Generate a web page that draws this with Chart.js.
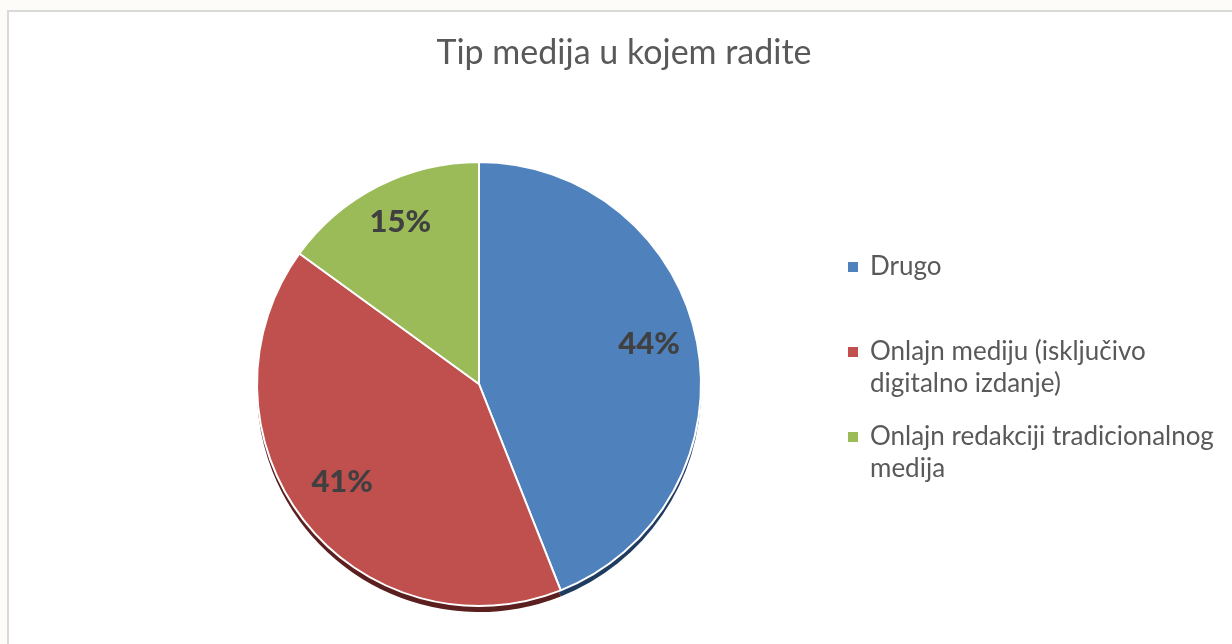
<!DOCTYPE html>
<html>
<head>
<meta charset="utf-8">
<script src="https://cdn.jsdelivr.net/npm/chart.js@4.4.1/dist/chart.umd.min.js"></script>
<style>
  html, body { margin: 0; padding: 0; background: #fdfcf8; overflow: hidden; }
  .frame {
    position: absolute; left: 7px; top: 10px; width: 1240px; height: 650px;
    background: #ffffff; border: 2px solid #d9d9d9;
  }
  #chart { position: absolute; left: 0; top: 0; }
</style>
</head>
<body>
<div class="frame"></div>
<canvas id="chart" width="1232" height="644"></canvas>
<script>
// chart data
const chartTitle = 'Tip medija u kojem radite';
const categories = [
    'Drugo',
    ['Onlajn mediju (isključivo', 'digitalno izdanje)'],
    ['Onlajn redakciji tradicionalnog', 'medija']
];
const shares = [44, 41, 15];
const sliceColors = ['#4f81bd', '#c0504d', '#9bbb59'];
const rimColors = ['#1f3b60', '#5a1f1e', '#4a5e28'];

const textColor = '#595959';
const fontFamily = 'Lato, "Open Sans", sans-serif';

// dark rim under the pie to fake Excel's 3D look
const rimPlugin = {
    id: 'rim',
    beforeDatasetsDraw(chart) {
        const ctx = chart.ctx;
        const arcs = chart.getDatasetMeta(0).data;
        ctx.save();
        arcs.forEach((arc, i) => {
            const p = arc.getProps(['x', 'y', 'startAngle', 'endAngle', 'outerRadius'], true);
            ctx.beginPath();
            ctx.moveTo(p.x, p.y + 6);
            ctx.arc(p.x, p.y + 6, p.outerRadius, p.startAngle, p.endAngle);
            ctx.closePath();
            ctx.fillStyle = rimColors[i];
            ctx.fill();
        });
        ctx.restore();
    }
};

// percentage labels inside slices
const pctLabels = {
    id: 'pctLabels',
    afterDatasetsDraw(chart) {
        const ctx = chart.ctx;
        const arcs = chart.getDatasetMeta(0).data;
        ctx.save();
        ctx.font = '900 31px ' + fontFamily;
        ctx.fillStyle = '#404040';
        ctx.textAlign = 'center';
        ctx.textBaseline = 'middle';
        arcs.forEach((arc, i) => {
            const p = arc.getProps(['x', 'y', 'startAngle', 'endAngle', 'outerRadius'], true);
            const mid = (p.startAngle + p.endAngle) / 2;
            const r = p.outerRadius * 0.78;
            ctx.fillText(shares[i] + '%', p.x + Math.cos(mid) * r, p.y + Math.sin(mid) * r - 8);
        });
        ctx.restore();
    }
};

// title and legend placed like the Excel original
const titleLegend = {
    id: 'titleLegend',
    afterDraw(chart) {
        const ctx = chart.ctx;
        ctx.save();
        ctx.fillStyle = textColor;
        ctx.textBaseline = 'alphabetic';
        ctx.textAlign = 'center';
        ctx.font = '34px ' + fontFamily;
        ctx.fillText(chartTitle, 624, 64);

        ctx.textAlign = 'left';
        ctx.font = '26px ' + fontFamily;
        const colors = chart.data.datasets[0].backgroundColor;
        chart.data.labels.forEach((label, i) => {
            const base = 275 + i * 85;
            ctx.fillStyle = colors[i];
            ctx.fillRect(848, base - 13, 10, 10);
            ctx.fillStyle = textColor;
            const lines = Array.isArray(label) ? label : [label];
            lines.forEach((line, j) => ctx.fillText(line, 870, base + j * 32));
        });
        ctx.restore();
    }
};

const chart = new Chart(document.getElementById('chart'), {
    type: 'pie',
    data: {
        labels: categories,
        datasets: [{
            data: shares,
            backgroundColor: sliceColors,
            borderColor: '#ffffff',
            borderWidth: 2,
            hoverOffset: 0
        }]
    },
    options: {
        responsive: false,
        animation: false,
        layout: { padding: { left: 254, right: 528, top: 161, bottom: 37 } },
        plugins: {
            legend: { display: false },
            title: { display: false },
            tooltip: { enabled: false }
        }
    },
    plugins: [rimPlugin, pctLabels, titleLegend]
});
</script>
</body>
</html>
